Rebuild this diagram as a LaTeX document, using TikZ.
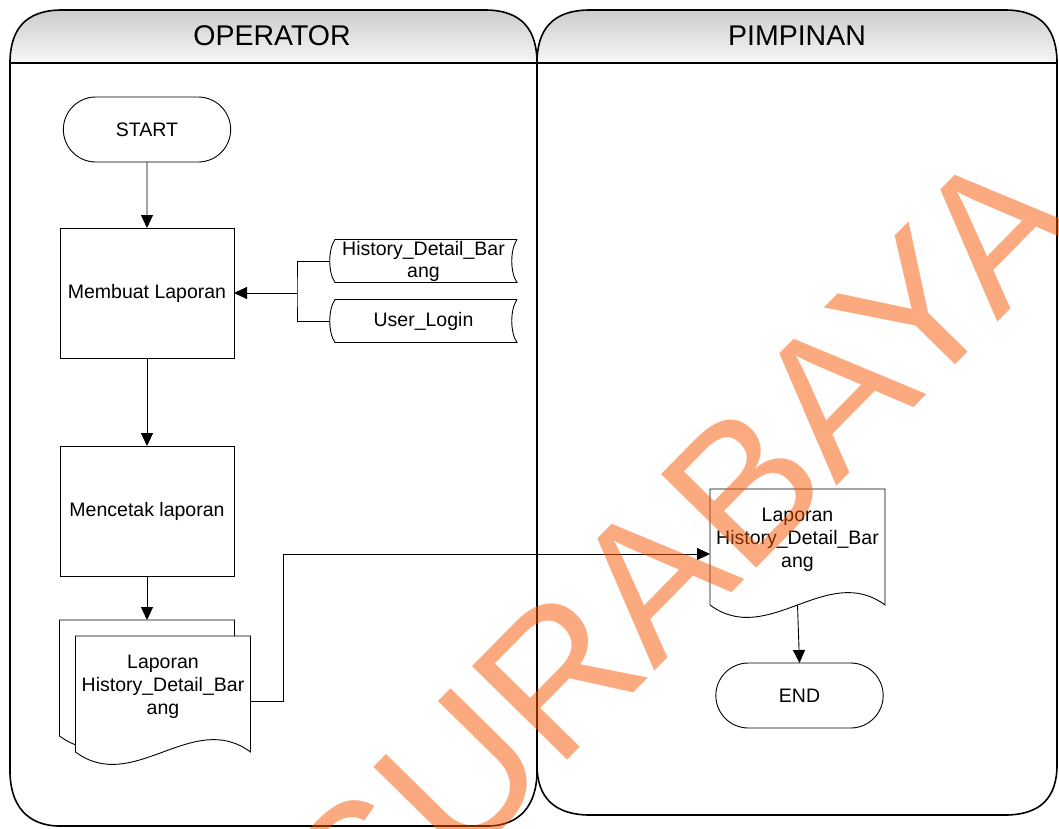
\documentclass[tikz,border=0pt]{standalone}
\usepackage{fontspec}
\setmainfont{Liberation Sans}
\usepackage{tikz}
\usetikzlibrary{positioning}
\usetikzlibrary{calc}
\usetikzlibrary{shapes.misc}
\usetikzlibrary{arrows.meta}
\usetikzlibrary{backgrounds}
\definecolor{wmorange}{RGB}{248,85,0}

\begin{document}
\begin{tikzpicture}[x=1pt,y=-1pt,
    >={Triangle[length=13pt,width=12pt]},
    every node/.style={font=\fontsize{19.5}{23}\selectfont, outer sep=0pt},
    terminal/.style={draw, line width=0.9pt, rounded rectangle, minimum width=174pt, minimum height=65pt},
    proc/.style={draw, line width=0.9pt, minimum width=174pt, minimum height=130pt},
    doc/.style={minimum width=175pt, minimum height=102pt, inner sep=2pt, align=center},
    stored/.style={minimum width=187pt, minimum height=43pt, inner sep=0pt, align=center, font=\fontsize{19.5}{22}\selectfont},
    lanetitle/.style={font=\fontsize{28.5}{34}\selectfont},
    lane/.style={line width=1.6pt},
    conn/.style={line width=0.9pt}]
    \useasboundingbox (0,0) rectangle (1059,828);
    \shade[top color=gray!40, bottom color=gray!6] (10,63) .. controls (10,30) and (25,10) .. (62,10) -- (485,10) .. controls (522,10) and (537,30) .. (537,63) -- cycle;
    \shade[top color=gray!40, bottom color=gray!6] (537,63) .. controls (537,30) and (552,10) .. (590,10) -- (1005,10) .. controls (1042,10) and (1057,30) .. (1057,63) -- cycle;
    \draw[lane] (10,63) .. controls (10,30) and (25,10) .. (62,10) -- (485,10) .. controls (522,10) and (537,30) .. (537,63) -- (537,771) .. controls (537,805) and (520,826) .. (487,826) -- (60,826) .. controls (27,826) and (10,805) .. (10,771) -- cycle;
    \draw[lane] (537,63) .. controls (537,30) and (552,10) .. (590,10) -- (1005,10) .. controls (1042,10) and (1057,30) .. (1057,63) -- (1057,765) .. controls (1057,798) and (1040,815) .. (1005,815) -- (590,815) .. controls (555,815) and (537,798) .. (537,765);
    \draw[lane] (10,63) -- (1057,63);
    \node[lanetitle] (operator) at (272,36) {OPERATOR};
    \node[lanetitle] (pimpinan) at (797,36) {PIMPINAN};

    \node[terminal] (start) at (147,129.5) {START};
    \node[proc, below=66pt of start] (buat) {Membuat Laporan};
    \node[proc, below=88pt of buat] (cetak) {Mencetak laporan};
    \node[doc, below=44pt of cetak] (ldocback) {};
    \node[doc, xshift=16pt, yshift=-16pt] (ldoc) at (ldocback) {Laporan\\History\_Detail\_Bar\\ang};
    \node[stored] (hist) at (423.5,261) {History\_Detail\_Bar\\ang};
    \node[stored] (user) at (423.5,321) {User\_Login};
    \node[doc] (rdoc) at (797.5,540) {Laporan\\History\_Detail\_Bar\\ang};
    \node[terminal] (end) at (799.5,695.5) {END};

    \begin{scope}[on background layer]
        \foreach \d in {ldocback,ldoc,rdoc}
            \draw[conn,fill=white] (\d.north west) -- (\d.north east) -- ++(0,116) .. controls +(-58,-43) and +(58,43) .. ++(-175,0) -- cycle;
    \end{scope}
    \foreach \s in {hist,user}
        \draw[conn] ($(\s)+(93.5,-21.5)$) -- ($(\s)+(-88.5,-21.5)$) .. controls +(-7,10) and +(-7,-10) .. ($(\s)+(-88.5,21.5)$) -- ($(\s)+(93.5,21.5)$) .. controls +(-7,-10) and +(-7,10) .. ($(\s)+(93.5,-21.5)$);

    \draw[conn,->] (start) -- (buat);
    \draw[conn,->] (buat) -- (cetak);
    \draw[conn,->] (cetak) -- (ldocback);
    \coordinate (dbjoin) at ([xshift=63pt]buat.east);
    \draw[conn] (hist.west) -| (dbjoin) |- (user.west);
    \draw[conn,->] (dbjoin) -- (buat.east);
    \draw[conn,->] ([yshift=-14pt]ldoc.east) -- ++(33,0) |- ([yshift=-14pt]rdoc.west);
    \draw[conn,->] ([yshift=-14pt]rdoc.south) -- (end.north);

    \node[rotate=45.5, anchor=base, text=wmorange, text opacity=0.5, font=\fontsize{194}{194}\selectfont] (wmark) at (728,597) {SURABAYA};
\end{tikzpicture}
\end{document}
